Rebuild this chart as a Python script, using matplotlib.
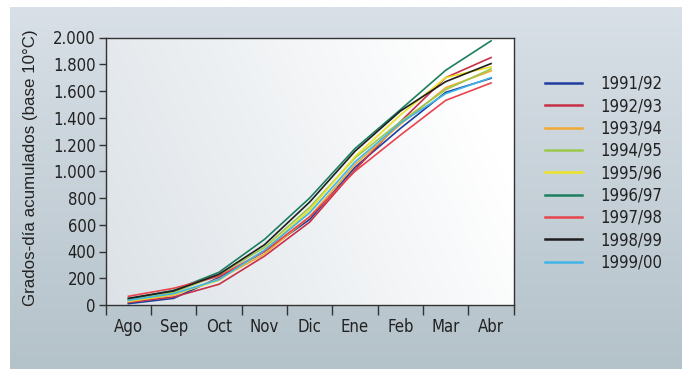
import numpy as np
import matplotlib.pyplot as plt
from matplotlib.colors import LinearSegmentedColormap

# months (Aug -> Apr) and accumulated degree-days per season
meses = ["Ago", "Sep", "Oct", "Nov", "Dic", "Ene", "Feb", "Mar", "Abr"]
temporadas = ["1991/92", "1992/93", "1993/94", "1994/95", "1995/96",
              "1996/97", "1997/98", "1998/99", "1999/00"]

gd_9192 = [10, 50, 205, 400, 640, 1030, 1320, 1590, 1695]
gd_9293 = [20, 60, 155, 365, 620, 1010, 1370, 1700, 1850]
gd_9394 = [25, 75, 195, 380, 660, 1050, 1350, 1625, 1750]
gd_9495 = [35, 95, 225, 430, 730, 1100, 1370, 1610, 1765]
gd_9596 = [30, 80, 185, 410, 710, 1110, 1420, 1700, 1780]
gd_9697 = [45, 110, 245, 490, 800, 1170, 1460, 1755, 1975]
gd_9798 = [65, 125, 215, 400, 660, 1000, 1270, 1530, 1660]
gd_9899 = [50, 105, 230, 450, 770, 1150, 1450, 1670, 1805]
gd_9900 = [35, 85, 190, 410, 690, 1070, 1360, 1580, 1700]

series = [gd_9192, gd_9293, gd_9394, gd_9495, gd_9596,
          gd_9697, gd_9798, gd_9899, gd_9900]
colores = ["#1f3d9e", "#c73048", "#f0a933", "#9dc84c", "#ece124",
           "#1b7f5f", "#e8444d", "#1e1e1e", "#3fb6e6"]

ytick_vals = [0, 200, 400, 600, 800, 1000, 1200, 1400, 1600, 1800, 2000]
ytick_lbls = ["0", "200", "400", "600", "800", "1.000", "1.200", "1.400",
              "1.600", "1.800", "2.000"]

tick_font = {"family": "DejaVu Sans", "stretch": "condensed", "size": 12}
leg_font = {"family": "DejaVu Sans", "stretch": "condensed", "size": 12}

fig = plt.figure(figsize=(6.82, 3.69), dpi=100)
fig.patch.set_facecolor("white")

# panel background (vertical gradient), white margin top/left
bg = fig.add_axes([10 / 682, 0, 672 / 682, 362 / 369], zorder=-10)
grad = np.linspace(0, 1, 256).reshape(-1, 1)
bg_cmap = LinearSegmentedColormap.from_list("bg", ["#b4c2ca", "#d9e0e7"])
bg.imshow(grad, aspect="auto", cmap=bg_cmap, origin="lower",
          extent=[0, 1, 0, 1])
bg.set_axis_off()

ax = fig.add_axes([105.7 / 682, 1 - 305 / 369, 408 / 682, 267.5 / 369])

# plot area gradient, grey on the left fading to white
gx, gy = np.meshgrid(np.linspace(0, 1, 300), np.linspace(0, 1, 200))
t = np.clip((gx * 0.85 + gy * 0.25) / 0.95, 0, 1)
ax_cmap = LinearSegmentedColormap.from_list("pa", ["#dce2e7", "#ffffff"])
ax.imshow(t, aspect="auto", cmap=ax_cmap, origin="lower",
          extent=[0, 9, 0, 2000], zorder=0)

x = np.arange(len(meses)) + 0.5
for vals, col, lab in zip(series, colores, temporadas):
    ax.plot(x, vals, color=col, lw=1.2, label=lab, zorder=2)

ax.set_xlim(0, 9)
ax.set_ylim(0, 2000)
ax.set_xticks(range(10))
ax.set_xticklabels([])
ax.set_xticks(x, minor=True)
ax.set_xticklabels(meses, minor=True, fontdict=tick_font, color="#222222")
ax.tick_params(axis="x", which="major", length=7, width=1, color="#333333",
               direction="out")
ax.tick_params(axis="x", which="minor", length=0, pad=9)
ax.set_yticks(ytick_vals)
ax.set_yticklabels(ytick_lbls, fontdict=tick_font, color="#222222")
ax.tick_params(axis="y", length=5, width=1, color="#333333", pad=2)
for s in ax.spines.values():
    s.set_color("#333333")
    s.set_linewidth(1.0)

ax.set_ylabel("Grados-día acumulados (base 10°C)", fontfamily="Liberation Sans",
              fontsize=12.2, color="#222222", labelpad=11)
ax.yaxis.label.set_y(0.514)

leg = ax.legend(loc="upper left", bbox_to_anchor=(1.06, 0.885), frameon=False,
                prop=leg_font, handlelength=2.2,
                handletextpad=1.1, labelspacing=0.26, borderaxespad=0)
for txt in leg.get_texts():
    txt.set_color("#222222")
for h in leg.legend_handles:
    h.set_linewidth(1.8)

fig.savefig("out.png", dpi=100)
